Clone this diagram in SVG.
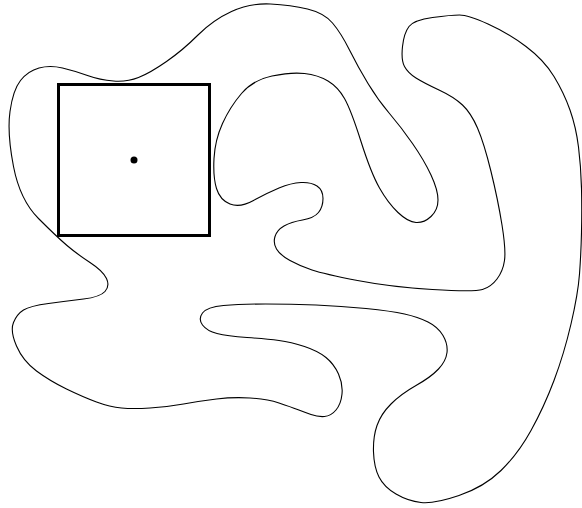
<svg xmlns="http://www.w3.org/2000/svg" width="582" height="508" viewBox="0 0 582 508">
<style>
.curve{fill:none;stroke:#000;stroke-width:1.1;stroke-linejoin:round}
.box{fill:none;stroke:#000;stroke-width:3}
.dot{fill:#000}
</style>
<rect width="582" height="508" fill="#fff"/>
<g id="blob">
<path class="curve" d="M113.5,81 Q127,82 138.5,77.5 Q150,73 166.5,61.5 Q183,50 198,35 Q213,20 231.5,11.5 Q250,3 270.5,4 Q291,5 307.5,9 Q324,13 332.5,23 Q341,33 349.5,50 Q358,67 368,83.5 Q378,100 389.5,113.5 Q401,127 412.5,143.5 Q424,160 431,175 Q438,190 438,200 Q438,210 431,216.5 Q424,223 416,222.5 Q408,222 398,212.5 Q388,203 379.5,188 Q371,173 361,141.5 Q351,110 344.5,98.5 Q338,87 328,81 Q318,75 304.5,73.5 Q291,72 272,76 Q253,80 241.5,93.5 Q230,107 222.5,123.5 Q215,140 214,158.5 Q213,177 216.5,188.5 Q220,200 230,204 Q240,208 253.5,200.5 Q267,193 279,188 Q291,183 301,182.5 Q311,182 317,186 Q323,190 323,198.5 Q323,207 318.5,212.5 Q314,218 302.5,220 Q291,222 284,226 Q277,230 275,236.5 Q273,243 276.5,249 Q280,255 290,260.5 Q300,266 312,270 Q324,274 357.5,280.5 Q391,287 432.5,289.5 Q474,292 482.5,289.5 Q491,287 497,279 Q503,271 504.5,260.5 Q506,250 502,225 Q498,200 491,171.5 Q484,143 477.5,128 Q471,113 462.5,105 Q454,97 439,90 Q424,83 416,78 Q408,73 404.5,66.5 Q401,60 402.5,46.5 Q404,33 409,26.5 Q414,20 432.5,17.5 Q451,15 459.5,15 Q468,15 488,24 Q508,33 526,46.5 Q544,60 554,76.5 Q564,93 570,110 Q576,127 578.5,147 Q581,167 581.5,188.5 Q582,210 581.5,232 Q581,254 579.5,274 Q578,294 571,324 Q564,354 554,380.5 Q544,407 531,430.5 Q518,454 501,470.5 Q484,487 459,495.5 Q434,504 421,502.5 Q408,501 396,494 Q384,487 379,477 Q374,467 373.5,452 Q373,437 377,425.5 Q381,414 391,404 Q401,394 416,385.5 Q431,377 438.5,369 Q446,361 447,352.5 Q448,344 443,335.5 Q438,327 428,322 Q418,317 404.5,314 Q391,311 366,308.5 Q341,306 316,305 Q291,304 265.5,304 Q240,304 223.5,305.5 Q207,307 202.5,313 Q198,319 202.5,325 Q207,331 217,333.5 Q227,336 247,337.5 Q267,339 279,340.5 Q291,342 304.5,346.5 Q318,351 326,357.5 Q334,364 338.5,374 Q343,384 342,394 Q341,404 336,410 Q331,416 324.5,416.5 Q318,417 311,414.5 Q304,412 297.5,409.5 Q291,407 279,403 Q267,399 250,398 Q233,397 216.5,399 Q200,401 183.5,404 Q167,407 150,408 Q133,409 121.5,408 Q110,407 96.5,402 Q83,397 66.5,389 Q50,381 36.5,371 Q23,361 16.5,346 Q10,331 13.5,322.5 Q17,314 23.5,310 Q30,306 48.5,303.5 Q67,301 83.5,299 Q100,297 105,291.5 Q110,286 106.5,278.5 Q103,271 90,262.5 Q77,254 67,245.5 Q57,237 38.5,218.5 Q20,200 13.5,166.5 Q7,133 10,111.5 Q13,90 20.5,80.5 Q28,71 39,68 Q50,65 62.5,68 Q75,71 87.5,75.5 Q100,80 113.5,81 Z"/>
</g>
<g id="square">
<rect class="box" x="58.5" y="84.5" width="151" height="151"/>
<circle class="dot" cx="134" cy="160" r="3.5"/>
</g>
</svg>
